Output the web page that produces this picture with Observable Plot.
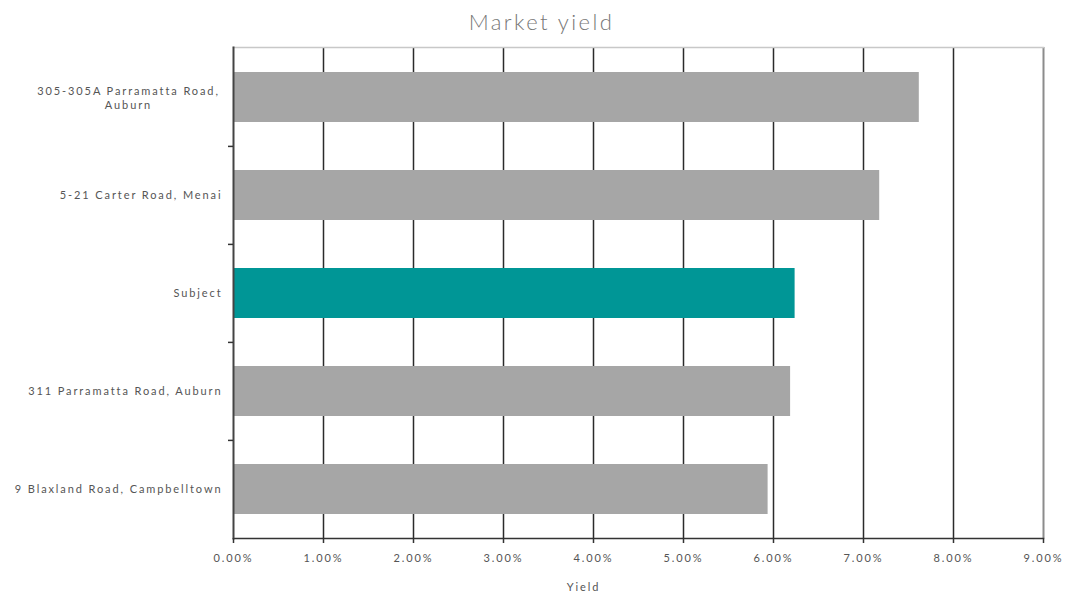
<!DOCTYPE html>
<html>
<head>
<meta charset="utf-8">
<script src="https://cdn.jsdelivr.net/npm/d3@7"></script>
<script src="https://cdn.jsdelivr.net/npm/@observablehq/plot@0.6"></script>
<style>
  html, body { margin: 0; padding: 0; background: #fff; }
  #title { height: 46px; line-height: 44px; text-align: center; font-family: Lato, sans-serif; font-weight: 300; font-size: 22px; letter-spacing: 2.4px; color: #777; width: 1071px; text-indent: 12px; }
  svg { display: block; }
</style>
</head>
<body>
<div id="title">Market yield</div>
<div id="chart"></div>
<script>
const properties = ["305-305A Parramatta Road,\nAuburn", "5-21 Carter Road, Menai", "Subject", "311 Parramatta Road, Auburn", "9 Blaxland Road, Campbelltown"];
const yields = [0.0762, 0.0718, 0.0624, 0.0619, 0.0594];
const highlighted = "Subject";
const xTicks = [0, 0.01, 0.02, 0.03, 0.04, 0.05, 0.06, 0.07, 0.08, 0.09];
const xLabel = "Yield";

const data = properties.map((p, i) => ({property: p, yield: yields[i], highlight: p === highlighted}));

const width = 1071, height = 548, mt = 1, mb = 56, ml = 233, mr = 28;
const step = (height - mt - mb) / properties.length;
const fmt = d3.format(".2%");
const font = "Lato, sans-serif";

const chart = Plot.plot({
  width, height,
  marginTop: mt, marginBottom: mb, marginLeft: ml, marginRight: mr,
  style: {fontFamily: font, fontSize: "11px", color: "#555", background: "#fff", letterSpacing: "1.9px"},
  x: {domain: [0, 0.09], label: null},
  y: {domain: properties, paddingInner: 0.49, paddingOuter: 0.245, label: null},
  marks: [
    Plot.ruleX(xTicks.slice(1, -1), {stroke: "#2b2b2b", strokeWidth: 1.5}),
    Plot.ruleX(xTicks.slice(-1), {stroke: "#8c8c8c", strokeWidth: 2}),
    Plot.frame({anchor: "top", stroke: "#c8c8c8", strokeWidth: 1.5}),
    Plot.barX(data, {y: "property", x: "yield", fill: d => d.highlight ? "#009696" : "#a6a6a6"}),
    Plot.frame({anchor: "bottom", stroke: "#333", strokeWidth: 1.5}),
    Plot.frame({anchor: "left", stroke: "#444", strokeWidth: 2}),
    Plot.axisX({ticks: xTicks, tickFormat: fmt, tickSize: 5, tickPadding: 11, stroke: "#333", strokeWidth: 1.5, label: null, fill: "#555", fontSize: 11}),
    Plot.text([xLabel], {frameAnchor: "bottom", dx: -55, dy: 52, fill: "#555", fontSize: 11}),
    Plot.axisY({ticks: properties.slice(1), tickSize: 5, tickFormat: () => "", label: null, dy: -step / 2, stroke: "#333", strokeWidth: 1.5}),
    Plot.axisY({ticks: properties.slice(1), tickSize: 0, tickPadding: 11, label: null, fill: "#555", fontSize: 11, textAnchor: "end"}),
    Plot.axisY({ticks: properties.slice(0, 1), tickSize: 0, label: null, textAnchor: "middle", dx: -96, fill: "#555", fontSize: 11, lineHeight: 1.3})
  ]
});
document.getElementById("chart").appendChild(chart);
</script>
</body>
</html>
